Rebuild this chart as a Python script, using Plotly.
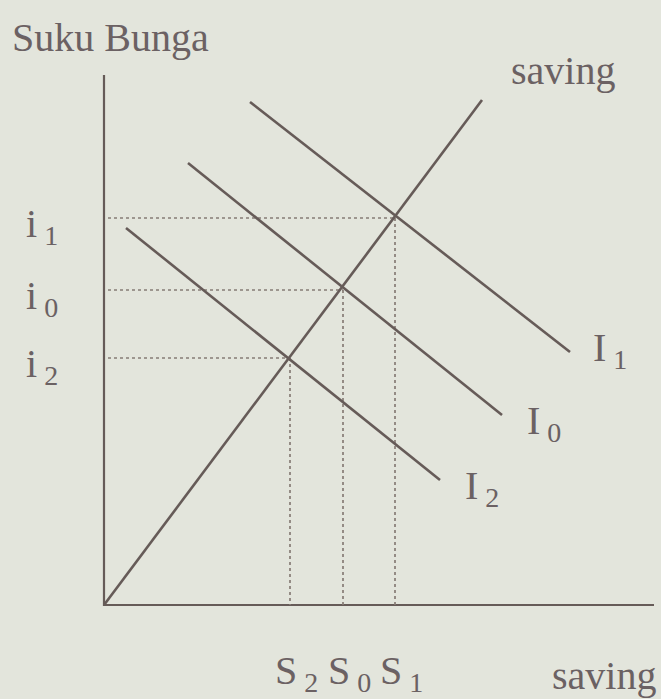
import plotly.graph_objects as go

# ---- data (diagram units) ----
saving_x = [0, 378]
saving_y = [0, 505]

I1_x = [146, 466]
I1_y = [503, 253]
I0_x = [84, 398]
I0_y = [442, 190]
I2_x = [22, 336]
I2_y = [377, 125]

S_vals = [186, 239, 291]      # S2, S0, S1
i_vals = [247, 315, 387]      # i2, i0, i1
S_labels = ["S<sub> 2</sub>", "S<sub> 0</sub>", "S<sub> 1</sub>"]
i_labels = ["i<sub> 2</sub>", "i<sub> 0</sub>", "i<sub> 1</sub>"]
I_labels = ["I<sub> 1</sub>", "I<sub> 0</sub>", "I<sub> 2</sub>"]

axis_x_end = 550
axis_y_end = 530
dot_start = 4

line_col = "#665b58"
dot_col = "#877c76"
txt_col = "#6b6163"
bg = "#e3e5dc"
font_fam = "Liberation Serif, Times New Roman, serif"

fig = go.Figure()

# axes
fig.add_trace(go.Scatter(x=[0, 0, axis_x_end], y=[axis_y_end, 0, 0], mode="lines",
                         line=dict(color=line_col, width=2.2), hoverinfo="skip"))

# dotted guides
for s, i in zip(S_vals, i_vals):
    fig.add_trace(go.Scatter(x=[dot_start, s], y=[i, i], mode="lines",
                             line=dict(color=dot_col, width=1.7, dash="dot"), hoverinfo="skip"))
    fig.add_trace(go.Scatter(x=[s, s], y=[i, 0], mode="lines",
                             line=dict(color=dot_col, width=1.7, dash="dot"), hoverinfo="skip"))

# saving line
fig.add_trace(go.Scatter(x=saving_x, y=saving_y, mode="lines",
                         line=dict(color=line_col, width=2.6), hoverinfo="skip"))
# investment lines
for xs, ys in [(I1_x, I1_y), (I0_x, I0_y), (I2_x, I2_y)]:
    fig.add_trace(go.Scatter(x=xs, y=ys, mode="lines",
                             line=dict(color=line_col, width=2.6), hoverinfo="skip"))

ann = []
def A(x, y, t, size=40, xanchor="center"):
    ann.append(dict(x=x, y=y, xref="x", yref="y", text=t, showarrow=False,
                    xanchor=xanchor, yanchor="middle",
                    font=dict(family=font_fam, size=size, color=txt_col)))

A(-94, 568, "Suku Bunga", xanchor="left")
A(405, 535, "saving", xanchor="left")
A(446, -70, "saving", xanchor="left")
for s, t in zip(S_vals, S_labels):
    A(s + 6, -68, t)
for i, t in zip(i_vals, i_labels):
    A(-62, i - 8, t)
A(I1_x[1] + 40, I1_y[1] + 2, I_labels[0])
A(I0_x[1] + 42, I0_y[1] - 8, I_labels[1])
A(I2_x[1] + 42, I2_y[1] - 8, I_labels[2])

fig.update_layout(
    width=661, height=699,
    margin=dict(l=0, r=0, t=0, b=0),
    paper_bgcolor=bg, plot_bgcolor=bg,
    showlegend=False,
    annotations=ann,
    xaxis=dict(range=[-104, 557], visible=False, fixedrange=True),
    yaxis=dict(range=[-94, 605], visible=False, fixedrange=True),
)

fig.write_html("out.html", config={"displayModeBar": False},
               post_script="document.body.style.margin='0';document.body.style.background='%s';" % bg)
